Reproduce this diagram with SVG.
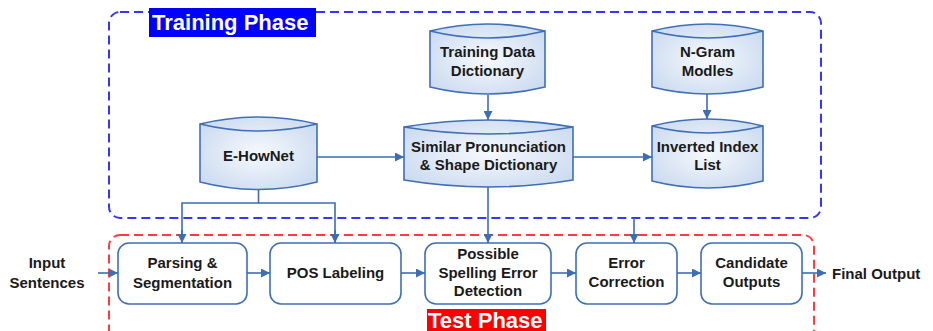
<svg xmlns="http://www.w3.org/2000/svg" width="933" height="331" viewBox="0 0 933 331">
<defs>
<radialGradient id="cyl" cx="50%" cy="50%" r="65%">
<stop offset="0" stop-color="#f6f9fd"/>
<stop offset="1" stop-color="#c9d9ef"/>
</radialGradient>
<marker id="ah" viewBox="0 0 10 10" refX="10" refY="5" markerWidth="9" markerHeight="9" markerUnits="userSpaceOnUse" orient="auto">
<path d="M0,0 L10,5 L0,10 Z" fill="#3d6db3"/>
</marker>
<style>
.cy{fill:url(#cyl);stroke:#3f6fb5;stroke-width:1.6}
.lip{fill:none;stroke:#3f6fb5;stroke-width:1.6}
.bx{fill:#fff;stroke:#3f6fb5;stroke-width:1.6}
.t{font-family:"Liberation Sans",Arial,sans-serif;font-weight:bold;font-size:15px;fill:#1a1a1a;text-anchor:middle}
.c{fill:none;stroke:#3d6db3;stroke-width:1.6}
.a{marker-end:url(#ah)}
.lbl{font-family:"Liberation Sans",Arial,sans-serif;font-weight:bold;font-size:22px;fill:#fff}
</style>
</defs>

<g id="training-phase">
<rect x="109" y="12" width="712" height="206" rx="11" fill="none" stroke="#3535ff" stroke-width="2" stroke-dasharray="9,5"/>
<rect x="149" y="8" width="167" height="29" fill="#0000ff"/>
<text class="lbl" x="152" y="30">Training Phase</text>
</g>

<g id="test-phase">
<rect x="109" y="235" width="705" height="120" rx="11" fill="none" stroke="#ff3b3b" stroke-width="2" stroke-dasharray="9,5"/>
<rect x="427" y="309" width="119" height="24" fill="#ff0000"/>
<text class="lbl" x="428" y="328">Test Phase</text>
</g>

<g id="training-data">
<path class="cy" d="M430,31 Q487.5,17 545,31 L545,87 Q487.5,101 430,87 Z"/>
<path class="lip" d="M430,31 Q487.5,45 545,31"/>
<text class="t" x="487.5" y="57">Training Data</text>
<text class="t" x="487.5" y="76">Dictionary</text>
</g>

<g id="ngram">
<path class="cy" d="M652,31 Q707.5,17 763,31 L763,87 Q707.5,101 652,87 Z"/>
<path class="lip" d="M652,31 Q707.5,45 763,31"/>
<text class="t" x="707.5" y="57">N-Gram</text>
<text class="t" x="707.5" y="76">Modles</text>
</g>

<g id="ehownet">
<path class="cy" d="M200,124 Q258.5,110 317,124 L317,182 Q258.5,197 200,182 Z"/>
<path class="lip" d="M200,124 Q258.5,138 317,124"/>
<text class="t" x="258.5" y="161">E-HowNet</text>
</g>

<g id="similar">
<path class="cy" d="M404,127 Q488.5,113 573,127 L573,180 Q488.5,194 404,180 Z"/>
<path class="lip" d="M404,127 Q488.5,141 573,127"/>
<text class="t" x="488.5" y="152">Similar Pronunciation</text>
<text class="t" x="488.5" y="170">&amp; Shape Dictionary</text>
</g>

<g id="inverted">
<path class="cy" d="M652,126 Q707.5,112 763,126 L763,181 Q707.5,195 652,181 Z"/>
<path class="lip" d="M652,126 Q707.5,140 763,126"/>
<text class="t" x="707.5" y="152">Inverted Index</text>
<text class="t" x="707.5" y="170">List</text>
</g>

<g id="input">
<text class="t" x="47" y="268">Input</text>
<text class="t" x="47" y="288">Sentences</text>
</g>

<g id="parsing">
<rect class="bx" x="118" y="243" width="129" height="61" rx="11"/>
<text class="t" x="182.5" y="268">Parsing &amp;</text>
<text class="t" x="182.5" y="288">Segmentation</text>
</g>

<g id="pos">
<rect class="bx" x="270" y="243" width="131" height="61" rx="11"/>
<text class="t" x="335.5" y="278">POS Labeling</text>
</g>

<g id="detection">
<rect class="bx" x="425" y="243" width="126" height="61" rx="11"/>
<text class="t" x="488" y="259">Possible</text>
<text class="t" x="488" y="278">Spelling Error</text>
<text class="t" x="488" y="296">Detection</text>
</g>

<g id="correction">
<rect class="bx" x="576" y="243" width="101" height="61" rx="11"/>
<text class="t" x="626.5" y="268">Error</text>
<text class="t" x="626.5" y="287">Correction</text>
</g>

<g id="candidate">
<rect class="bx" x="701" y="243" width="101" height="61" rx="11"/>
<text class="t" x="751.5" y="268">Candidate</text>
<text class="t" x="751.5" y="287">Outputs</text>
</g>

<g id="final">
<text class="t" x="832" y="279" style="text-anchor:start">Final Output</text>
</g>

<g id="connectors">
<line class="c a" x1="488" y1="95" x2="488" y2="120"/>
<line class="c a" x1="707" y1="94" x2="707" y2="119"/>
<line class="c a" x1="317" y1="157" x2="404" y2="157"/>
<line class="c a" x1="573" y1="157" x2="652" y2="157"/>
<polyline class="c" points="258.5,190 258.5,203 182,203 182,243"/>
<polyline class="c" points="258.5,203 335,203 335,243"/>
<path class="c a" d="M182,230 L182,243"/>
<path class="c a" d="M335,230 L335,243"/>
<line class="c a" x1="488" y1="187" x2="488" y2="243"/>
<line class="c a" x1="634" y1="218" x2="634" y2="243"/>
<line class="c a" x1="98" y1="273" x2="118" y2="273"/>
<line class="c a" x1="247" y1="273" x2="270" y2="273"/>
<line class="c a" x1="401" y1="273" x2="425" y2="273"/>
<line class="c a" x1="551" y1="273" x2="576" y2="273"/>
<line class="c a" x1="677" y1="273" x2="701" y2="273"/>
<line class="c a" x1="802" y1="273" x2="826" y2="273"/>
</g>
</svg>
